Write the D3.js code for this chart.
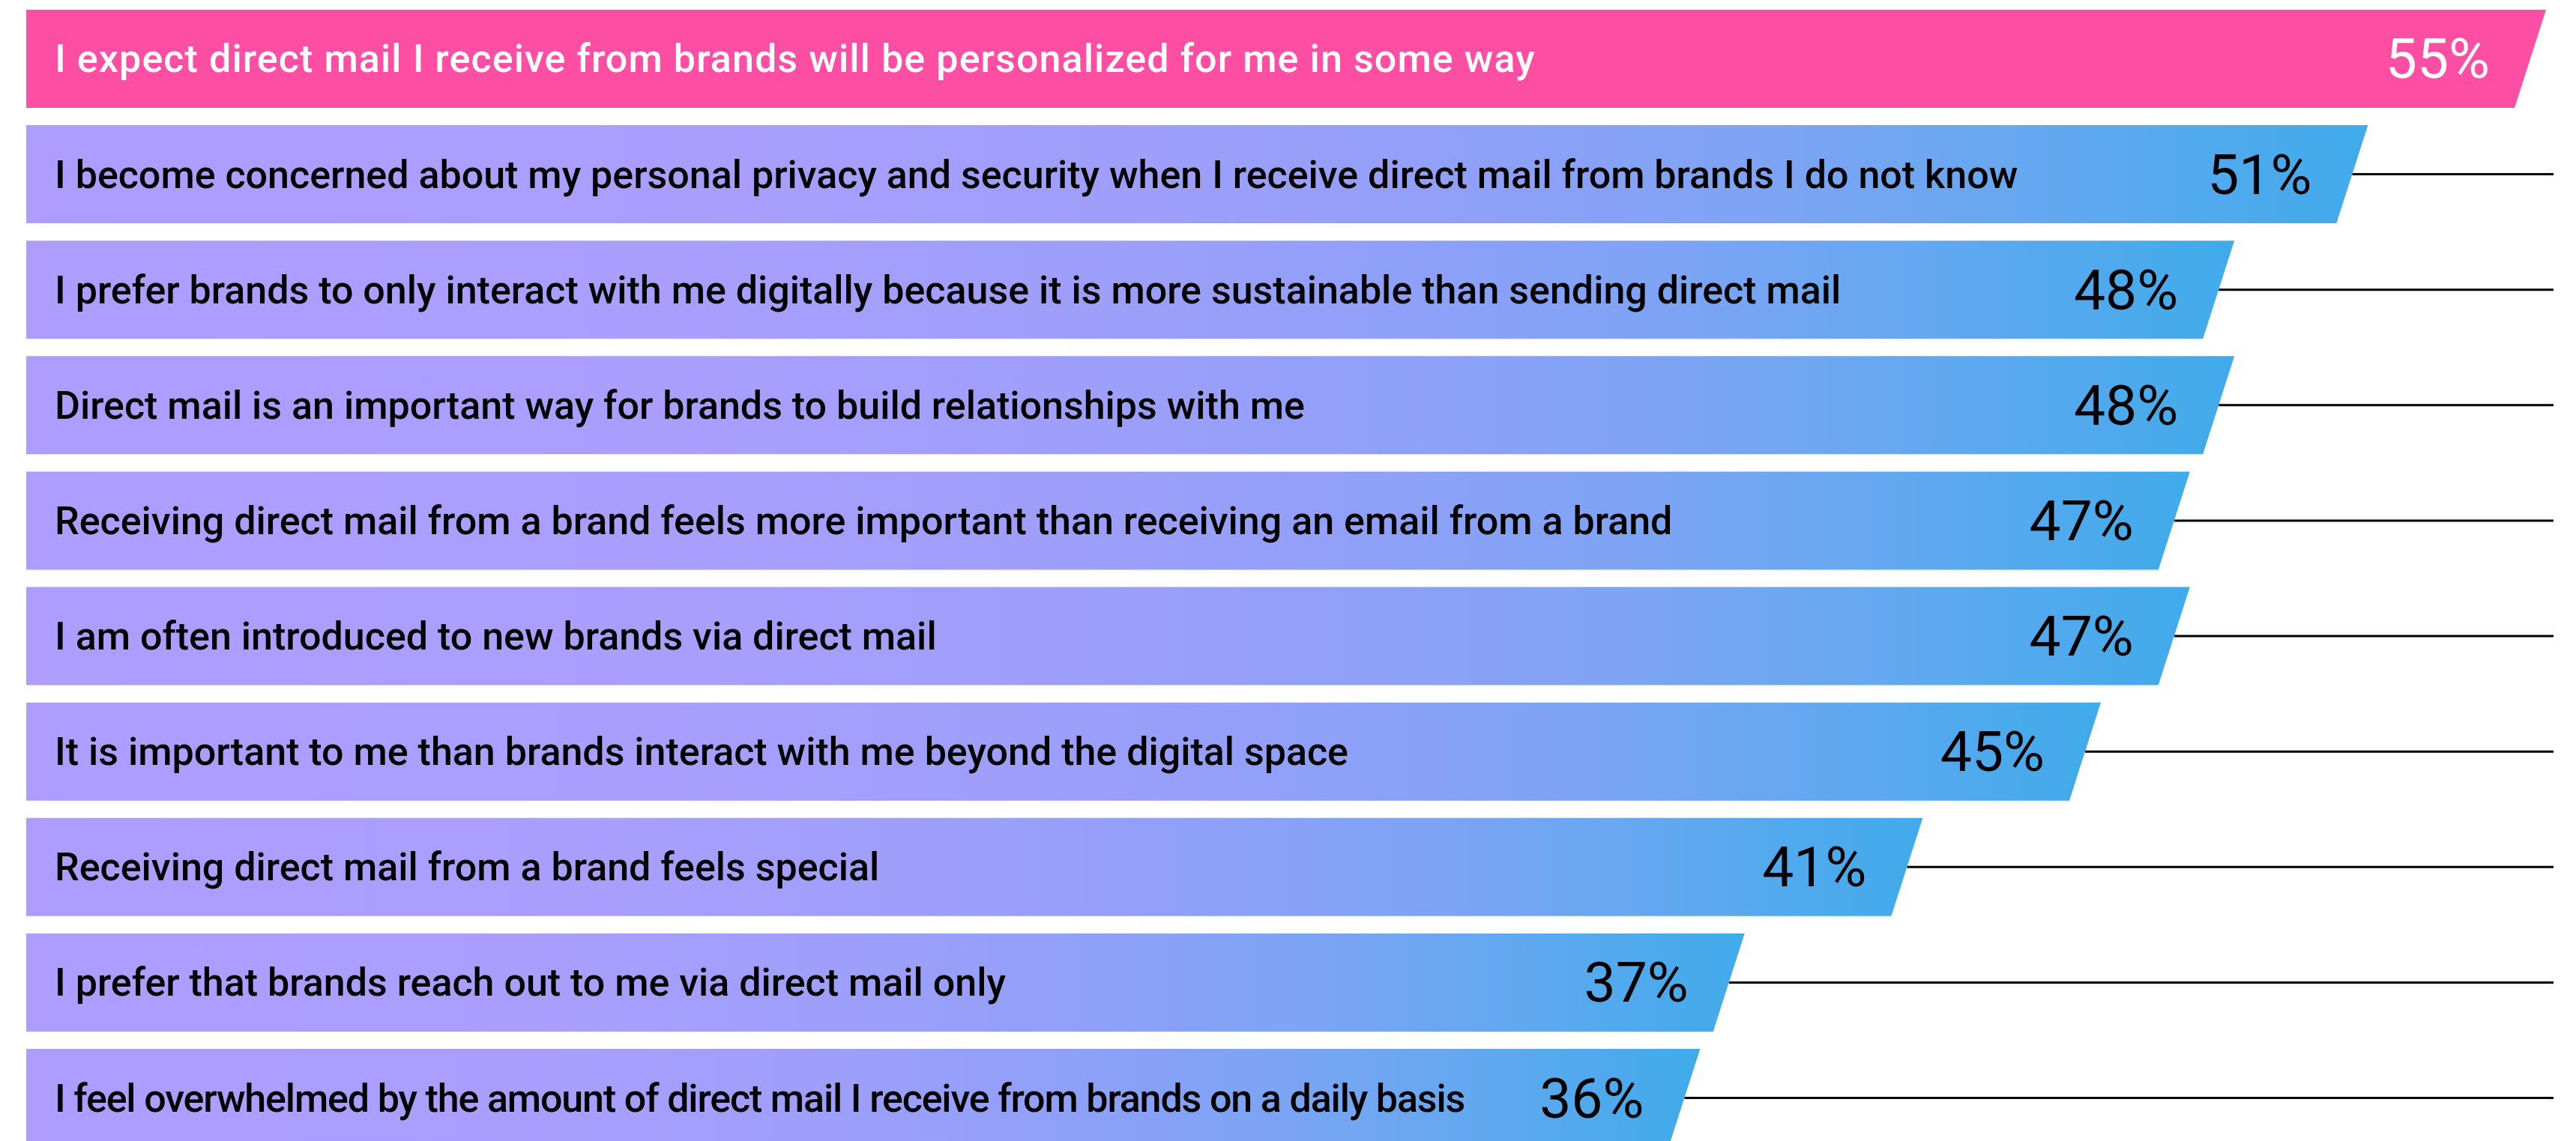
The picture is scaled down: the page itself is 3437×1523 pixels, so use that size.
<!DOCTYPE html>
<html>
<head>
<meta charset="utf-8">
<script src="https://cdn.jsdelivr.net/npm/d3@7"></script>
<style>
  html, body { margin: 0; padding: 0; background: #ffffff; }
  svg { display: block; }
</style>
</head>
<body>
<script>
// Survey statements, ordered from highest to lowest agreement
const categories = [
  "I expect direct mail I receive from brands will be personalized for me in some way",
  "I become concerned about my personal privacy and security when I receive direct mail from brands I do not know",
  "I prefer brands to only interact with me digitally because it is more sustainable than sending direct mail",
  "Direct mail is an important way for brands to build relationships with me",
  "Receiving direct mail from a brand feels more important than receiving an email from a brand",
  "I am often introduced to new brands via direct mail",
  "It is important to me than brands interact with me beyond the digital space",
  "Receiving direct mail from a brand feels special",
  "I prefer that brands reach out to me via direct mail only",
  "I feel overwhelmed by the amount of direct mail I receive from brands on a daily basis"
];

// Share of respondents agreeing (%)
const values = [55, 51, 48, 48, 47, 47, 45, 41, 37, 36];

// Value labels shown at the end of each bar
const valueLabels = values.map(v => v + "%");

const W = 3437, H = 1523;
const barLeft = 35;      // left edge of every bar
const slant = 42;        // horizontal offset of the slanted bar end
const leaderEnd = 3407;  // right end of the leader lines
const textX = 73;
const minGap = 100;      // minimum space between statement and percentage

const svg = d3.select("body").append("svg")
  .attr("width", W)
  .attr("height", H);

const y = d3.scaleBand()
  .domain(categories)
  .range([13, 1531])
  .paddingInner(0.15)
  .paddingOuter(0);

const x = d3.scaleLinear()
  .domain([0, 55])
  .range([130, 3397]);

// Lavender-to-blue fill used on the regular bars
const defs = svg.append("defs");
const grad = defs.append("linearGradient")
  .attr("id", "barGradient")
  .attr("x1", "0").attr("y1", "0")
  .attr("x2", "1").attr("y2", "0");
[
  [0.00, "#ae9dff"],
  [0.30, "#aa9efd"],
  [0.50, "#9c9ffa"],
  [0.63, "#8ea0f8"],
  [0.75, "#7ca4f4"],
  [0.86, "#63a8f0"],
  [1.00, "#40abea"]
].forEach(([o, c]) => grad.append("stop").attr("offset", o).attr("stop-color", c));

const rows = categories.map((c, i) => ({ label: c, value: values[i], text: valueLabels[i], i }));

const g = svg.append("g");

const row = g.selectAll("g.row")
  .data(rows)
  .join("g")
  .attr("class", "row");

// Leader lines running from the slanted bar end to the right margin
row.filter(d => d.i > 0)
  .append("line")
  .attr("x1", d => x(d.value) - slant / 2)
  .attr("x2", leaderEnd)
  .attr("y1", d => y(d.label) + y.bandwidth() / 2)
  .attr("y2", d => y(d.label) + y.bandwidth() / 2)
  .attr("stroke", "#000")
  .attr("stroke-width", 3);

// Bars with a slanted right end
row.append("path")
  .attr("d", d => {
    const t = y(d.label), b = t + y.bandwidth(), r = x(d.value);
    return `M${barLeft},${t}L${r},${t}L${r - slant},${b}L${barLeft},${b}Z`;
  })
  .attr("fill", d => d.i === 0 ? "#fc4fa3" : "url(#barGradient)");

// Percentage labels
const pct = row.append("text")
  .attr("x", d => x(d.value) - slant / 2 - 54)
  .attr("y", d => y(d.label) + y.bandwidth() / 2 + 26)
  .attr("text-anchor", "end")
  .attr("font-family", "Roboto, 'Liberation Sans', sans-serif")
  .attr("font-weight", 400)
  .attr("font-size", 75)
  .attr("fill", d => d.i === 0 ? "#ffffff" : "#000000")
  .text(d => d.text);

// Statement text (the highlighted row is set a little looser)
const lbl = row.append("text")
  .attr("x", textX)
  .attr("y", d => y(d.label) + y.bandwidth() / 2 + 18)
  .attr("font-family", "Roboto, 'Liberation Sans', sans-serif")
  .attr("font-weight", 500)
  .attr("font-size", 52)
  .attr("letter-spacing", d => d.i === 0 ? 1.1 : 0)
  .attr("fill", d => d.i === 0 ? "#ffffff" : "#000000")
  .text(d => d.label);

// Tighten any statement that would run into its percentage label
lbl.each(function(d) {
  const pctNode = pct.filter(p => p === d).node();
  const pctLeft = pctNode.getBBox().x;
  const avail = pctLeft - minGap - textX;
  const len = this.getComputedTextLength();
  if (len > avail) {
    d3.select(this).attr("letter-spacing", (avail - len) / d.label.length);
  }
});
</script>
</body>
</html>
